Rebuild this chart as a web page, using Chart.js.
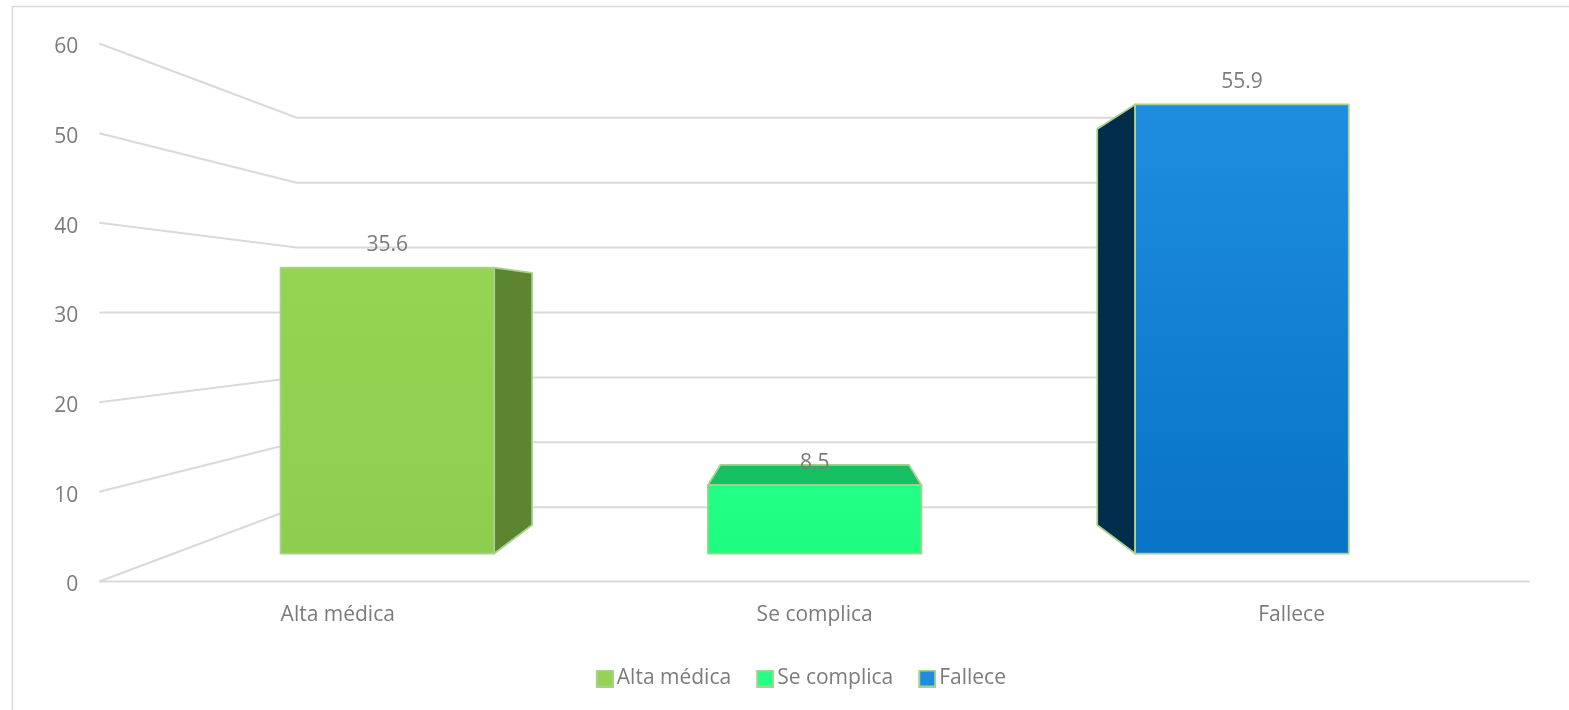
<!DOCTYPE html>
<html>
<head>
<meta charset="utf-8">
<script src="https://cdn.jsdelivr.net/npm/chart.js@4/dist/chart.umd.min.js"></script>
<style>
  html, body { margin: 0; padding: 0; background: #ffffff; }
  #wrap { width: 1569px; height: 710px; }
  canvas { display: block; }
</style>
</head>
<body>
<div id="wrap"><canvas id="chart" width="1569" height="710" style="width:1569px;height:710px"></canvas></div>
<script>
// Outcome categories and their percentages
const categories = ['Alta médica', 'Se complica', 'Fallece'];
const values = [35.6, 8.5, 55.9];
const yTicks = [0, 10, 20, 30, 40, 50, 60];

// Face colours of each column
const frontTop = ['#94d452', '#22ff87', '#1e8de0'];
const frontBottom = ['#8fcd4e', '#1dfd81', '#0873c7'];
const sideColors = ['#5c8431', '#13bf61', '#022d4a'];
const topColors = ['#6f9e3b', '#14c062', '#0b5fa0'];
const EDGE = '#a9d18e';
const GRID = '#d9d9d9';
const TEXT = '#7b7b7b';
const FONT = "'Open Sans', sans-serif";

// Depth of each plane relative to the front (axis) plane, toward the vanishing point
const DEPTH = { wall: 0.724, barFront: 0.896, barBack: 0.79 };

// Legend swatch: filled square with a light green rim, drawn at the right of a wider canvas
function swatch(color) {
  const c = document.createElement('canvas');
  c.width = 33; c.height = 18;
  const g = c.getContext('2d');
  g.fillStyle = color;
  g.fillRect(16, 1, 16, 16);
  g.strokeStyle = EDGE;
  g.lineWidth = 2;
  g.strokeRect(16, 1, 16, 16);
  return c;
}

function face(ctx, pts, fill) {
  ctx.beginPath();
  ctx.moveTo(pts[0][0], pts[0][1]);
  for (let i = 1; i < pts.length; i++) ctx.lineTo(pts[i][0], pts[i][1]);
  ctx.closePath();
  ctx.fillStyle = fill;
  ctx.fill();
  ctx.strokeStyle = EDGE;
  ctx.lineWidth = 1.75;
  ctx.lineJoin = 'round';
  ctx.stroke();
}

const perspective = {
  id: 'perspective',
  afterLayout(chart) {
    // nudge the legend row to sit slightly right of the canvas centre
    if (chart.legend) {
      chart.legend.left += 6;
      chart.legend.right += 6;
    }
  },
  beforeDraw(chart) {
    const ctx = chart.ctx;
    ctx.save();
    ctx.fillStyle = '#ffffff';
    ctx.fillRect(0, 0, chart.width, chart.height);
    ctx.strokeStyle = GRID;
    ctx.lineWidth = 1.5;
    ctx.strokeRect(12.5, 6.5, chart.width + 40, chart.height + 40);
    ctx.restore();
  },
  beforeDatasetsDraw(chart) {
    const { ctx, chartArea: a, scales: { x, y } } = chart;
    const cx = (a.left + a.right) / 2;
    const cy = y.getPixelForValue((y.min + y.max) / 2);
    const P = (px, py, k) => [cx + k * (px - cx), cy + k * (py - cy)];

    // Side wall and back wall gridlines
    ctx.save();
    ctx.strokeStyle = GRID;
    ctx.lineWidth = 2;
    const backRight = P(a.right, 0, DEPTH.wall)[0];
    yTicks.forEach(v => {
      const py = y.getPixelForValue(v);
      const back = P(a.left, py, DEPTH.wall);
      ctx.beginPath();
      ctx.moveTo(a.left, py);
      ctx.lineTo(back[0], back[1]);
      ctx.lineTo(backRight, back[1]);
      ctx.stroke();
    });
    const y0 = y.getPixelForValue(0);
    ctx.beginPath();
    ctx.moveTo(a.left, y0);
    ctx.lineTo(a.right, y0);
    ctx.stroke();
    ctx.restore();

    // Columns
    const labels = [];
    chart.data.datasets.forEach((ds, di) => {
      const meta = chart.getDatasetMeta(di);
      meta.data.forEach((bar, i) => {
        const v = ds.data[i];
        if (v === null || v === undefined) return;
        const p = bar.getProps(['x', 'y', 'base', 'width'], true);
        const x0 = p.x - p.width / 2, x1 = p.x + p.width / 2;
        const top = p.y, base = p.base;
        const F = (px, py) => P(px, py, DEPTH.barFront);
        const B = (px, py) => P(px, py, DEPTH.barBack);
        ctx.save();
        if (F(x1, top)[0] < cx) {
          face(ctx, [F(x1, top), B(x1, top), B(x1, base), F(x1, base)], sideColors[di]);
        }
        if (F(x0, top)[0] > cx) {
          face(ctx, [F(x0, top), B(x0, top), B(x0, base), F(x0, base)], sideColors[di]);
        }
        if (F(x0, top)[1] > cy) {
          face(ctx, [F(x0, top), F(x1, top), B(x1, top), B(x0, top)], topColors[di]);
        }
        const ft = F(x0, top), fb = F(x1, base);
        const grad = ctx.createLinearGradient(0, ft[1], 0, fb[1]);
        grad.addColorStop(0, frontTop[di]);
        grad.addColorStop(1, frontBottom[di]);
        face(ctx, [F(x0, top), F(x1, top), F(x1, base), F(x0, base)], grad);
        ctx.restore();
        const c = F(p.x, top);
        labels.push([v.toFixed(1), c[0], c[1] - 22.5]);
      });
    });

    // Value labels above the columns
    ctx.save();
    ctx.font = '21px ' + FONT;
    ctx.fillStyle = TEXT;
    ctx.textAlign = 'center';
    ctx.textBaseline = 'middle';
    labels.forEach(l => ctx.fillText(l[0], l[1], l[2]));
    ctx.restore();
    return false;
  }
};

const datasets = categories.map((name, i) => ({
  label: name,
  data: categories.map((_, j) => (j === i ? values[i] : null)),
  backgroundColor: frontTop[i],
  borderColor: EDGE,
  borderWidth: 2
}));

new Chart(document.getElementById('chart'), {
  type: 'bar',
  data: { labels: categories, datasets },
  plugins: [perspective],
  options: {
    responsive: false,
    animation: false,
    grouped: false,
    categoryPercentage: 0.5,
    barPercentage: 1,
    layout: { padding: { left: 52.3, right: 39, top: 43.5, bottom: 11 } },
    plugins: {
      tooltip: { enabled: false },
      legend: {
        position: 'bottom',
        labels: {
          usePointStyle: true,
          pointStyleWidth: 18,
          boxWidth: 18,
          boxHeight: 18,
          padding: 17.5,
          color: TEXT,
          font: { family: FONT, size: 21 },
          generateLabels(chart) {
            return chart.data.datasets.map((ds, i) => ({
              text: ds.label,
              pointStyle: swatch(frontTop[i]),
              fillStyle: frontTop[i],
              strokeStyle: EDGE,
              lineWidth: 0,
              hidden: false,
              datasetIndex: i,
              fontColor: TEXT
            }));
          }
        }
      }
    },
    scales: {
      x: {
        grid: { display: false, drawTicks: false },
        border: { display: false },
        ticks: { color: TEXT, font: { family: FONT, size: 21 }, padding: 21, maxRotation: 0 },
        afterFit(scale) { scale.height = 69; }
      },
      y: {
        min: 0,
        max: 60,
        grid: { display: false, drawTicks: false },
        border: { display: false },
        ticks: { stepSize: 10, color: TEXT, font: { family: FONT, size: 21 }, padding: 21, labelOffset: 4 },
        afterFit(scale) { scale.width = 47; }
      }
    }
  }
});
</script>
</body>
</html>
